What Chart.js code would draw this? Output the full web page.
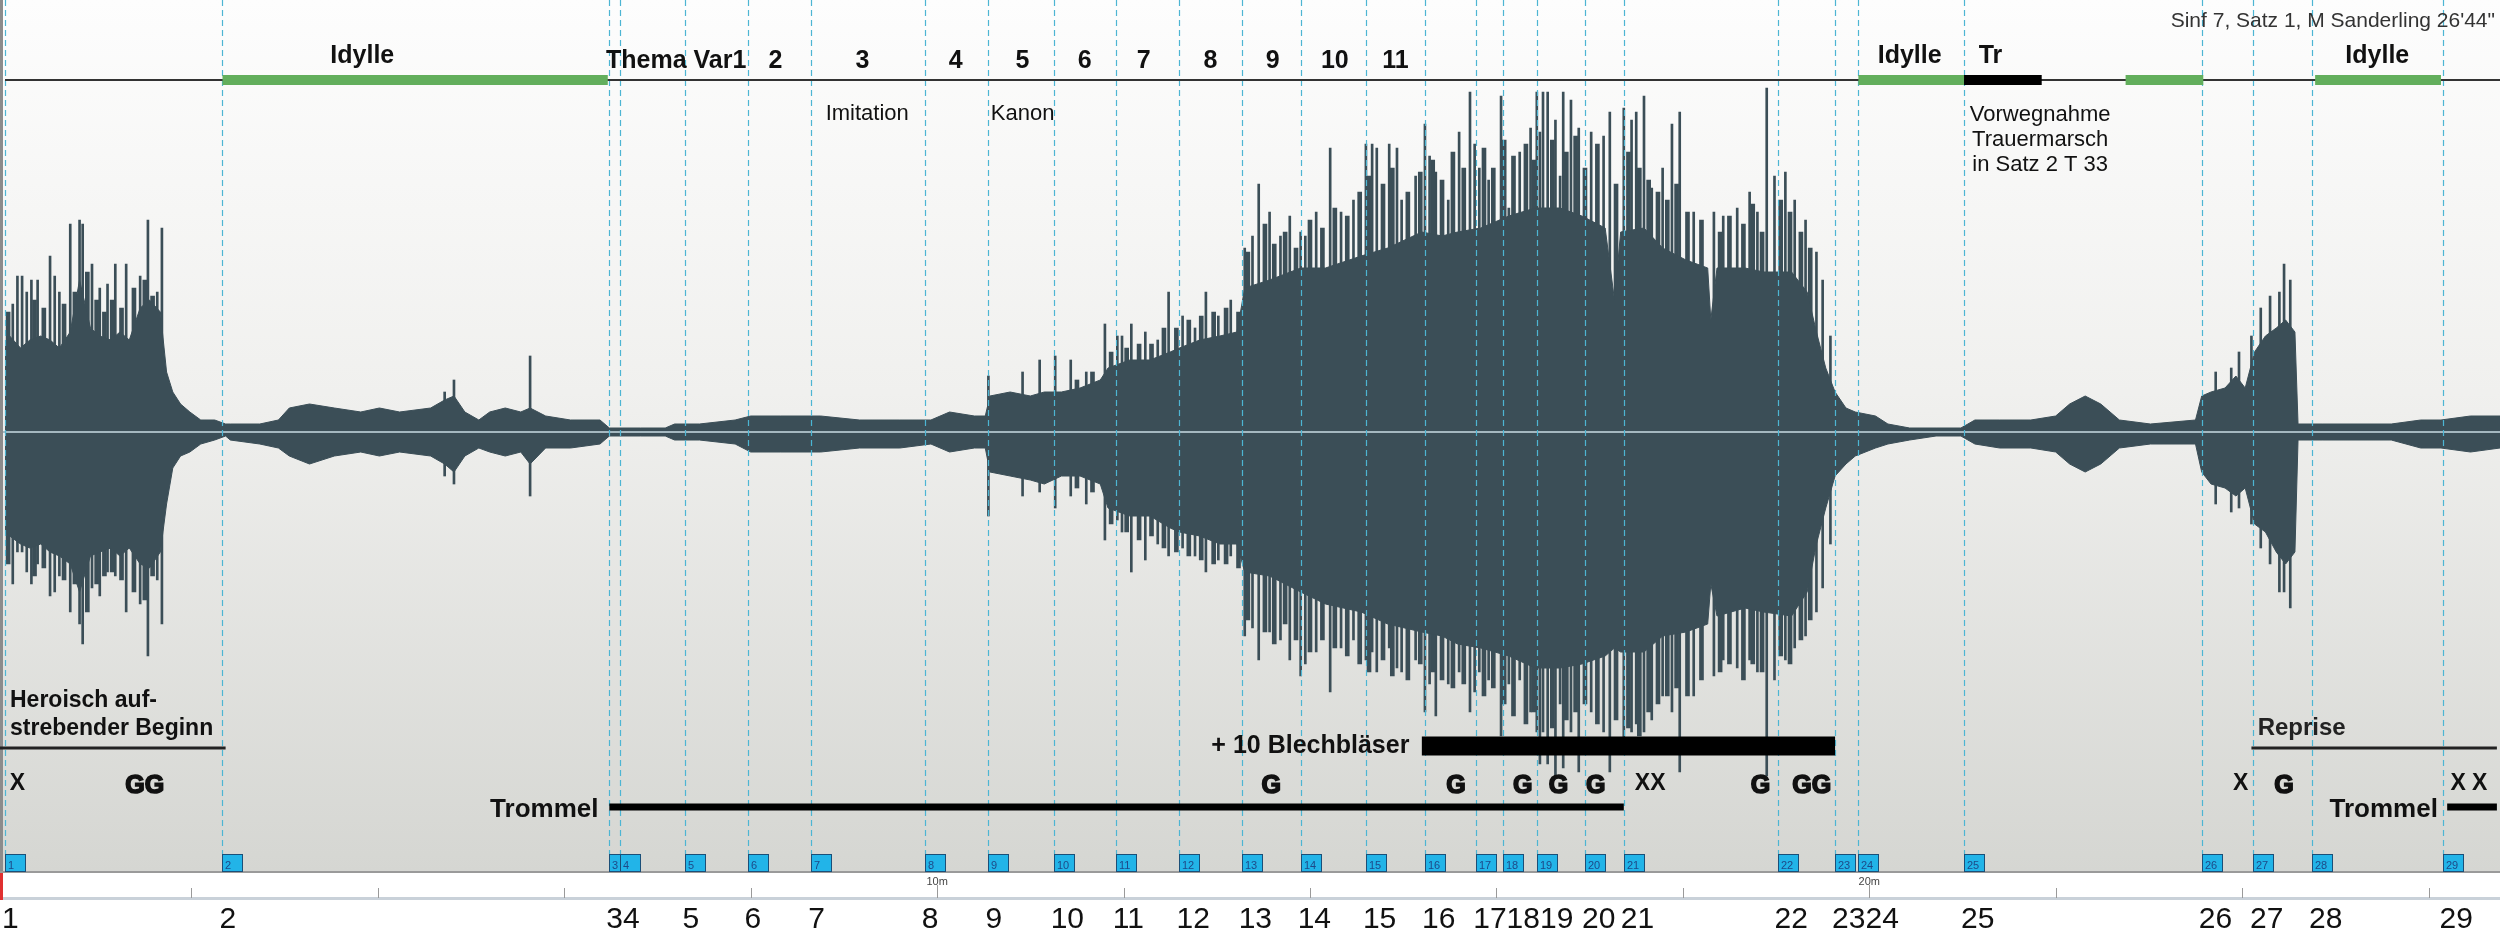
<!DOCTYPE html>
<html>
<head>
<meta charset="utf-8">
<title>Sinf 7, Satz 1</title>
<script src="https://cdn.jsdelivr.net/npm/chart.js@4.4.0/dist/chart.umd.min.js"></script>
<style>
  html, body { margin: 0; padding: 0; background: #fff; }
  #wrap { width: 2500px; height: 934px; }
</style>
</head>
<body>
<div id="wrap"><canvas id="waveChart" width="2500" height="934"></canvas></div>
<script>
// all times in seconds (recording 26'44")
var markerTimes = [0, 140, 389, 396, 438, 478, 519, 592, 633, 675, 715, 756, 796, 834, 876, 914, 947, 964, 986, 1017, 1042, 1141, 1178, 1193, 1261, 1414, 1447, 1485, 1569];
var markerLabels = ['1','2','3','4','5','6','7','8','9','10','11','12','13','14','15','16','17','18','19','20','21','22','23','24','25','26','27','28','29'];

// solid core of the waveform (amplitude above / below the centre line)
var waveTimes = [0,3,10,16,23,29,35,42,48,55,61,68,74,80,87,93,100,104,108,113,119,126,135,142,
  145,164,176,183,196,212,229,241,254,274,283,289,296,305,312,322,332,338,348,364,383,389,409,425,431,447,470,480,499,525,550,576,596,608,624,631,
  634,647,660,669,680,692,705,710,724,737,750,756,769,782,793,798,814,834,850,873,890,912,925,935,950,968,985,1001,1015,1030,1036,1040,1055,1067,1082,1096,1098,1102,1120,1132,1150,1160,1166,1172,1178,1185,1191,1204,1212,1226,1243,1259,
  1268,1284,1304,1320,1329,1339,1349,1361,1381,1410,1414,1420,1429,1436,1442,1448,1455,1462,1468,1474,1476,1492,1536,1555,1568,1587,1606];
var waveUpper = [.21,.24,.21,.23,.24,.23,.21,.25,.38,.26,.24,.23,.25,.23,.31,.33,.30,.15,.10,.07,.05,.03,.03,.02,
  .02,.02,.03,.06,.07,.06,.05,.06,.05,.06,.08,.09,.05,.03,.05,.06,.05,.06,.04,.03,.03,.01,.01,.01,.02,.02,.03,.04,.04,.04,.03,.03,.03,.05,.04,.04,
  .09,.10,.09,.10,.10,.11,.13,.16,.18,.18,.20,.21,.23,.24,.25,.36,.38,.41,.41,.44,.46,.50,.49,.50,.51,.54,.56,.56,.54,.51,.33,.50,.51,.46,.43,.41,.28,.41,.41,.40,.40,.35,.25,.16,.10,.06,.05,.04,.02,.01,.01,.01,
  .03,.03,.03,.04,.07,.09,.07,.03,.02,.03,.09,.10,.11,.14,.11,.20,.24,.26,.28,.25,.02,.02,.02,.03,.03,.04,.04];
var waveLower = [.25,.26,.28,.29,.28,.30,.31,.33,.40,.31,.30,.29,.31,.29,.33,.34,.30,.18,.09,.06,.05,.03,.02,.01,
  .02,.03,.04,.06,.08,.06,.05,.06,.05,.06,.08,.10,.06,.04,.05,.06,.05,.08,.04,.04,.03,.01,.01,.01,.02,.02,.03,.05,.05,.05,.04,.04,.03,.05,.04,.04,
  .10,.11,.12,.13,.11,.11,.13,.19,.21,.21,.24,.25,.26,.28,.28,.35,.36,.40,.43,.45,.48,.50,.51,.53,.54,.56,.59,.59,.58,.56,.54,.55,.55,.51,.50,.48,.38,.46,.44,.45,.46,.40,.28,.19,.11,.08,.06,.04,.03,.02,.01,.01,
  .03,.04,.04,.05,.08,.10,.08,.04,.03,.03,.10,.13,.14,.16,.14,.23,.25,.30,.33,.30,.02,.02,.02,.04,.04,.05,.04];

// dense fringe between the core and the single peaks
var fringeTimes = [2,19,25,38,45,53,59,64,69,75,83,90,95,
  690,700,712,722,730,738,746,754,762,770,778,786,794,
  800,811,817,824,831,840,848,856,864,872,878,887,893,903,911,919,925,932,939,952,958,965,971,979,984,996,
  1005,1011,1017,1025,1037,1045,1052,1058,1064,1070,1076,1083,1092,1104,1110,1119,1125,1131,1143,1149,1156,1162];
var fringeUpper = [.30,.33,.31,.32,.35,.40,.33,.30,.33,.31,.36,.38,.34,
  .13,.15,.20,.21,.22,.22,.26,.26,.28,.29,.30,.31,.30,
  .45,.52,.47,.50,.46,.53,.51,.56,.54,.60,.64,.62,.66,.60,.65,.68,.63,.70,.66,.71,.66,.73,.69,.72,.68,.73,
  .70,.74,.66,.72,.62,.70,.66,.63,.60,.58,.62,.55,.53,.50,.54,.52,.57,.50,.58,.55,.50,.46];
var fringeLower = [.33,.36,.34,.37,.38,.45,.38,.36,.35,.37,.40,.42,.36,
  .14,.15,.23,.25,.27,.26,.29,.30,.31,.32,.33,.33,.34,
  .47,.50,.53,.48,.52,.55,.52,.54,.56,.58,.60,.57,.61,.62,.58,.60,.62,.64,.63,.66,.64,.68,.71,.73,.70,.74,
  .72,.70,.68,.73,.72,.74,.76,.70,.68,.66,.64,.66,.62,.60,.58,.62,.58,.60,.56,.58,.52,.47];

// single peaks sticking out of the core
var spikeTimes = [5,8,11,14,17,21,29,32,35,42,48,50,56,61,66,71,78,87,92,98,101,
  283,289,338, 633,655,666,676,
  686,696,708,716,719,725,734,742,749,758,766,773,781,789,
  798,803,807,814,821,827,834,837,844,853,
  860,868,876,880,883,891,896,899,908,914,
  917,921,929,936,943,946,949,955,963,968,
  975,982,986,988,990,993,998,1001,1003,1008,
  1013,1021,1029,1033,1042,1047,1050,1055,1060,1067,
  1073,1078,1087,1100,1106,1115,1123,1128,1134,1139,
  1146,1152,1159,1166,1170,1175,
  1423,1433,1438,1446,1452,1458,1464,1467,1471];
var spikeUpper = [.32,.39,.39,.35,.38,.38,.44,.39,.35,.52,.53,.52,.42,.36,.37,.42,.42,.39,.53,.35,.51,
  .10,.13,.19, .14,.15,.18,.19,
  .18,.15,.27,.24,.24,.27,.25,.23,.35,.29,.26,.35,.29,.33,
  .46,.49,.62,.55,.49,.54,.50,.49,.55,.71,
  .55,.58,.72,.72,.71,.72,.71,.58,.64,.77,
  .69,.65,.58,.75,.85,.72,.66,.63,.84,.56,
  .70,.76,.85,.75,.85,.85,.78,.64,.85,.83,
  .76,.75,.74,.80,.81,.78,.80,.84,.61,.66,
  .77,.80,.55,.55,.54,.56,.60,.55,.86,.64,
  .65,.58,.53,.45,.38,.24,
  .15,.16,.20,.24,.31,.34,.35,.42,.38];
var spikeLower = [.38,.30,.30,.35,.38,.33,.41,.40,.36,.45,.48,.53,.39,.41,.35,.36,.45,.43,.56,.37,.48,
  .11,.13,.16, .21,.16,.15,.19,
  .16,.18,.27,.22,.25,.35,.32,.28,.31,.29,.31,.35,.32,.31,
  .51,.49,.57,.50,.52,.57,.61,.58,.55,.65,
  .54,.52,.57,.55,.60,.54,.59,.60,.57,.70,
  .63,.71,.63,.60,.70,.65,.60,.62,.76,.63,
  .62,.70,.75,.83,.75,.83,.86,.68,.84,.75,
  .85,.70,.75,.85,.80,.75,.73,.75,.72,.66,
  .70,.85,.66,.61,.57,.59,.57,.60,.86,.62,
  .57,.54,.51,.45,.39,.28,
  .18,.20,.19,.23,.29,.33,.40,.40,.44];

// sections on the top line
var idylleSpans = [[140, 388], [1193, 1261], [1365, 1415], [1487, 1568]];
var trSpan = [1261, 1311];
var idylleNames = ['Idylle', 'Idylle', 'Tr', 'Idylle'];
var idylleNameTimes = [230, 1226, 1278, 1527];
var varNames = ['Thema Var1', '2', '3', '4', '5', '6', '7', '8', '9', '10', '11'];
var varNameTimes = [432, 496, 552, 612, 655, 695, 733, 776, 816, 856, 895];
var noteNames = ['Imitation', 'Kanon'];
var noteTimes = [555, 655];
var trNote = ['Vorwegnahme', 'Trauermarsch', 'in Satz 2 T 33'];
var trNoteTime = 1310;

// instrumentation rows at the bottom
var trommelSpans = [[389, 1042], [1572, 1604]];
var trommelLabelEnds = [382, 1566];
var blechSpan = [912, 1178];
var blechLabelEnd = 904;
var heroischSpan = [0, 142];
var repriseSpan = [1446, 1604];
var repriseStart = 1450;
var letterMarks = ['X', 'GG', 'G', 'G', 'G', 'G', 'G', 'XX', 'G', 'GG', 'X', 'G', 'X X'];
var letterTimes = [8, 90, 815, 934, 977, 1000, 1024, 1059, 1130, 1163, 1439, 1467, 1586];
var rulerStep = 120;
var rulerMajor = [600, 1200];
var rulerMajorLabels = ['10m', '20m'];

var WAVE = '#3b4e57';
var FONT = '"Liberation Sans", Arial, sans-serif';

function pts(times, vals, sign) {
  return times.map(function (t, i) { return { x: t, y: sign * vals[i] }; });
}

function ranges(times, up, down) {
  return times.map(function (t, i) { return { x: t, y: [-down[i], up[i]] }; });
}

var backdrop = {
  id: 'backdrop',
  beforeDraw: function (chart) {
    var ctx = chart.ctx;
    ctx.save();
    ctx.fillStyle = '#ffffff';
    ctx.fillRect(0, 0, 2500, 934);
    var g = ctx.createLinearGradient(0, 0, 0, 872);
    g.addColorStop(0, '#fdfdfd');
    g.addColorStop(0.45, '#f0f0ee');
    g.addColorStop(1, '#d5d6d2');
    ctx.fillStyle = g;
    ctx.fillRect(0, 0, 2500, 872);
    ctx.restore();
  }
};

function label(ctx, s, x, y, font, align) {
  ctx.font = font;
  ctx.textAlign = align || 'center';
  ctx.textBaseline = 'alphabetic';
  ctx.fillText(s, x, y);
}

function hbar(ctx, x1, x2, yc, h, color) {
  ctx.fillStyle = color;
  ctx.fillRect(x1, yc - h / 2, x2 - x1, h);
}

var annotations = {
  id: 'annotations',
  afterDatasetsDraw: function (chart) {
    var ctx = chart.ctx;
    var xs = chart.scales.x;
    var ys = chart.scales.y;
    var X = function (t) { return xs.getPixelForValue(t); };
    var zeroY = ys.getPixelForValue(0);
    ctx.save();

    // centre line
    ctx.strokeStyle = '#a5b8c0';
    ctx.lineWidth = 2;
    ctx.beginPath(); ctx.moveTo(0, zeroY); ctx.lineTo(2500, zeroY); ctx.stroke();

    // marker lines
    ctx.strokeStyle = '#4db5d3';
    ctx.lineWidth = 1.2;
    ctx.setLineDash([6, 4]);
    markerTimes.forEach(function (t) {
      var x = Math.round(X(t)) + 0.5;
      ctx.beginPath(); ctx.moveTo(x, 0); ctx.lineTo(x, 854); ctx.stroke();
    });
    ctx.setLineDash([]);

    // frame
    ctx.fillStyle = '#8c8c8c';
    ctx.fillRect(0, 0, 3, 872);
    ctx.fillStyle = '#9a9a9a';
    ctx.fillRect(0, 871, 2500, 2);

    // top time line with sections
    ctx.fillStyle = '#333';
    ctx.fillRect(X(0), 79, 2500 - X(0), 2);
    idylleSpans.forEach(function (s) { hbar(ctx, X(s[0]), X(s[1]), 80, 10, '#62ae5c'); });
    hbar(ctx, X(trSpan[0]), X(trSpan[1]), 80, 10, '#000');

    ctx.fillStyle = '#111';
    idylleNames.forEach(function (s, i) {
      label(ctx, s, X(idylleNameTimes[i]), 63, 'bold 25px ' + FONT);
    });
    varNames.forEach(function (s, i) {
      label(ctx, s, X(varNameTimes[i]), 68, 'bold 25px ' + FONT);
    });
    noteNames.forEach(function (s, i) {
      label(ctx, s, X(noteTimes[i]), 120, '22px ' + FONT);
    });
    trNote.forEach(function (s, i) {
      label(ctx, s, X(trNoteTime), 121 + i * 25, '22px ' + FONT);
    });
    ctx.fillStyle = '#333';
    label(ctx, 'Sinf 7, Satz 1, M Sanderling 26\'44"', 2495, 27, '21px ' + FONT, 'right');

    // bottom annotation rows
    ctx.fillStyle = '#111';
    label(ctx, 'Heroisch auf-', X(heroischSpan[0]) + 5, 707, 'bold 23px ' + FONT, 'left');
    label(ctx, 'strebender Beginn', X(heroischSpan[0]) + 5, 735, 'bold 23px ' + FONT, 'left');
    hbar(ctx, 0, X(heroischSpan[1]), 748, 3, '#222');
    label(ctx, 'Reprise', X(repriseStart), 735, 'bold 24px ' + FONT, 'left');
    hbar(ctx, X(repriseSpan[0]), X(repriseSpan[1]), 748, 3, '#222');

    hbar(ctx, X(blechSpan[0]), X(blechSpan[1]), 746, 19, '#000');
    ctx.fillStyle = '#111';
    label(ctx, '+ 10 Blechbläser', X(blechLabelEnd), 753, 'bold 25px ' + FONT, 'right');

    trommelSpans.forEach(function (s) { hbar(ctx, X(s[0]), X(s[1]), 807, 7, '#000'); });
    ctx.fillStyle = '#111';
    trommelLabelEnds.forEach(function (t) {
      label(ctx, 'Trommel', X(t), 817, 'bold 26px ' + FONT, 'right');
    });

    letterMarks.forEach(function (s, i) {
      var x = X(letterTimes[i]);
      ctx.fillStyle = '#111';
      if (s.indexOf('G') >= 0) {
        label(ctx, s, x, 793, 'bold 25px ' + FONT);
        ctx.strokeStyle = '#111';
        ctx.lineWidth = 1.6;
        ctx.strokeText(s, x, 793);
      } else {
        label(ctx, s, x, 790, 'bold 23px ' + FONT);
      }
    });

    // marker boxes
    markerTimes.forEach(function (t, i) {
      var x = Math.round(X(t));
      ctx.fillStyle = '#22b4e8';
      ctx.fillRect(x, 854, 21, 18);
      ctx.strokeStyle = '#1b4f78';
      ctx.lineWidth = 1;
      ctx.strokeRect(x + 0.5, 854.5, 20, 17);
      ctx.fillStyle = '#1d4a88';
      label(ctx, markerLabels[i], x + 3, 869, '11px ' + FONT, 'left');
    });

    // ruler in the white band
    ctx.fillStyle = '#c9d1d9';
    ctx.fillRect(0, 897, 2500, 3);
    ctx.fillStyle = '#e03030';
    ctx.fillRect(0, 873, 3, 27);
    ctx.strokeStyle = '#9a9a9a';
    ctx.lineWidth = 1;
    for (var t = rulerStep; t < xs.max; t += rulerStep) {
      var rx = Math.round(X(t)) + 0.5;
      var major = rulerMajor.indexOf(t) >= 0;
      ctx.beginPath(); ctx.moveTo(rx, major ? 885 : 888); ctx.lineTo(rx, 898); ctx.stroke();
    }
    ctx.fillStyle = '#444';
    rulerMajor.forEach(function (t, i) {
      label(ctx, rulerMajorLabels[i], X(t), 885, '11px ' + FONT);
    });

    // marker numbers under the ruler
    ctx.fillStyle = '#111';
    var prevRight = -1e9;
    markerTimes.forEach(function (t, i) {
      ctx.font = '30px ' + FONT;
      var w = ctx.measureText(markerLabels[i]).width;
      var left = Math.max(X(t) - 3, prevRight);
      label(ctx, markerLabels[i], left, 928, '30px ' + FONT, 'left');
      prevRight = left + w;
    });

    ctx.restore();
  }
};

var ctx = document.getElementById('waveChart').getContext('2d');
var chart = new Chart(ctx, {
  data: {
    datasets: [
      {
        type: 'line',
        data: pts(waveTimes, waveUpper, 1),
        borderColor: WAVE,
        backgroundColor: WAVE,
        borderWidth: 1,
        pointRadius: 0,
        fill: '+1'
      },
      {
        type: 'line',
        data: pts(waveTimes, waveLower, -1),
        borderColor: WAVE,
        borderWidth: 1,
        pointRadius: 0,
        fill: false
      },
      {
        type: 'bar',
        data: ranges(fringeTimes, fringeUpper, fringeLower),
        backgroundColor: WAVE,
        barThickness: 4,
        grouped: false
      },
      {
        type: 'bar',
        data: ranges(spikeTimes, spikeUpper, spikeLower),
        backgroundColor: WAVE,
        barThickness: 2,
        grouped: false
      }
    ]
  },
  options: {
    responsive: false,
    animation: false,
    events: [],
    layout: { padding: { left: 5, right: 0, top: 0, bottom: 70 } },
    scales: {
      x: { type: 'linear', min: 0, max: 1606, offset: false, display: false },
      y: { min: -1.08, max: 1.08, display: false }
    },
    plugins: {
      legend: { display: false },
      tooltip: { enabled: false }
    }
  },
  plugins: [backdrop, annotations]
});
</script>
</body>
</html>
